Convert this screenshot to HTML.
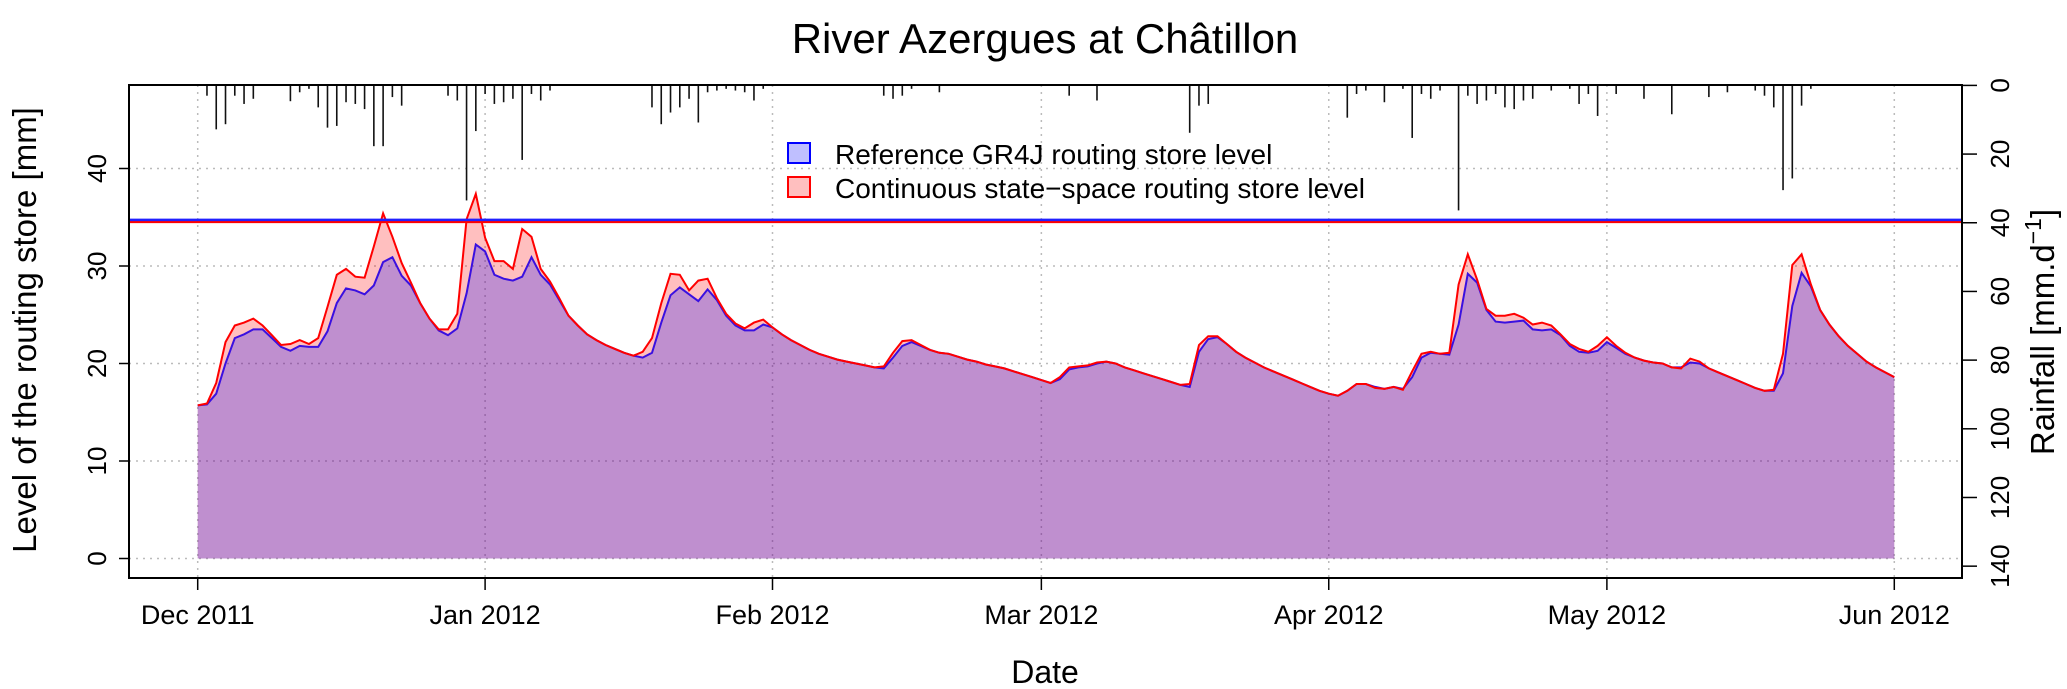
<!DOCTYPE html>
<html><head><meta charset="utf-8"><style>
body{margin:0;background:#fff;}
svg{display:block;font-family:"Liberation Sans",Arial,sans-serif;}
</style></head><body>
<svg id="chart" width="2067" height="689" xmlns="http://www.w3.org/2000/svg">
<text x="1045" y="53" font-size="42" text-anchor="middle">River Azergues at Châtillon</text>
<g id="grid"></g>
<g id="rain"></g>
<g id="areas"></g>
<g id="axes"></g>
<text x="1045" y="683" font-size="32" text-anchor="middle">Date</text>
<text transform="translate(36,330) rotate(-90)" font-size="33" text-anchor="middle">Level of the routing store [mm]</text>
<text transform="translate(2054,332) rotate(-90)" font-size="33" text-anchor="middle">Rainfall [mm.d<tspan dy="-13" font-size="23">−1</tspan><tspan dy="13">]</tspan></text>
<g>
<g>
<rect x="788" y="143" width="22" height="20" fill="rgba(0,0,255,0.25)" stroke="#0000ff" stroke-width="2"/>
<text x="835" y="164" font-size="28">Reference GR4J routing store level</text></g>
<g>
<rect x="788" y="177" width="22" height="20" fill="rgba(255,0,0,0.25)" stroke="#ff0000" stroke-width="2"/>
<text x="835" y="198" font-size="28">Continuous state−space routing store level</text></g>
</g>
</svg>
<script>
const blueLevel=[15.7,15.8,16.9,20.0,22.6,23.0,23.5,23.5,22.6,21.7,21.3,21.8,21.7,21.7,23.3,26.2,27.7,27.5,27.1,28.0,30.4,30.9,29.0,28.0,26.2,24.6,23.4,22.9,23.6,27.2,32.2,31.5,29.1,28.7,28.5,28.9,30.9,29.1,28.1,26.5,24.9,23.9,23.0,22.4,21.9,21.5,21.1,20.8,20.6,21.1,24.2,27.0,27.8,27.1,26.4,27.6,26.5,24.9,23.9,23.4,23.4,24.0,23.7,23.0,22.4,21.9,21.4,21.0,20.7,20.4,20.2,20.0,19.8,19.6,19.5,20.6,21.8,22.2,21.8,21.4,21.1,21.0,20.7,20.4,20.2,19.9,19.7,19.5,19.2,18.9,18.6,18.3,18.0,18.4,19.4,19.6,19.7,20.0,20.2,20.0,19.6,19.3,19.0,18.7,18.4,18.1,17.8,17.6,21.2,22.5,22.7,22.0,21.2,20.6,20.1,19.6,19.2,18.8,18.4,18.0,17.6,17.2,16.9,16.7,17.2,17.9,17.9,17.6,17.4,17.6,17.4,18.6,20.6,21.1,21.0,20.9,24.0,29.2,28.3,25.5,24.3,24.2,24.3,24.4,23.5,23.4,23.5,22.9,21.8,21.2,21.1,21.3,22.2,21.6,21.0,20.6,20.3,20.1,20.0,19.6,19.6,20.1,20.0,19.5,19.1,18.7,18.3,17.9,17.5,17.2,17.2,19.0,25.9,29.3,27.9,25.5,24.0,22.8,21.8,21.0,20.2,19.6,19.1,18.6];
const redLevel=[15.7,15.9,18.0,22.2,23.9,24.2,24.6,23.9,22.9,21.9,22.0,22.4,22.0,22.6,25.8,29.1,29.7,28.9,28.8,32.0,35.4,33.0,30.3,28.3,26.2,24.6,23.5,23.5,25.1,34.8,37.4,32.9,30.5,30.5,29.7,33.8,33.0,29.7,28.4,26.7,24.9,23.9,23.0,22.4,21.9,21.5,21.1,20.8,21.2,22.6,26.2,29.2,29.1,27.5,28.5,28.7,26.7,25.1,24.1,23.6,24.2,24.5,23.7,23.0,22.4,21.9,21.4,21.0,20.7,20.4,20.2,20.0,19.8,19.6,19.7,21.1,22.3,22.4,21.9,21.4,21.1,21.0,20.7,20.4,20.2,19.9,19.7,19.5,19.2,18.9,18.6,18.3,18.0,18.6,19.6,19.7,19.8,20.1,20.2,20.0,19.6,19.3,19.0,18.7,18.4,18.1,17.8,17.9,21.9,22.8,22.8,22.0,21.2,20.6,20.1,19.6,19.2,18.8,18.4,18.0,17.6,17.2,16.9,16.7,17.2,17.9,17.9,17.5,17.4,17.6,17.3,19.2,21.0,21.2,21.0,21.1,28.1,31.2,28.6,25.6,24.9,24.9,25.1,24.7,24.0,24.2,23.9,23.0,22.0,21.5,21.2,21.8,22.7,21.8,21.1,20.6,20.3,20.1,20.0,19.6,19.5,20.5,20.2,19.5,19.1,18.7,18.3,17.9,17.5,17.2,17.3,21.0,30.1,31.2,28.1,25.5,24.0,22.8,21.8,21.0,20.2,19.6,19.1,18.6];
const rainfall=[0,3,12.8,11.3,3,5.4,3.9,0,0,0,4.6,2,1,6.4,12.3,11.8,4.9,5.4,6.9,17.7,17.7,3.4,5.9,0,0,0,0,3,4.4,33.5,13.3,2.5,5.4,4.9,3.9,21.7,2.5,4.4,1.5,0,0,0,0,0,0,0,0,0,0,6.4,11.3,7.9,6.4,3.9,10.8,2,1.5,1,1.5,2,4.4,1,0,0,0,0,0,0,0,0,0,0,0,0,3,3.9,3,1,0,0,2,0,0,0,0,0,0,0,0,0,0,0,0,0,3,0,0,4.4,0,0,0,0,0,0,0,0,0,13.8,5.9,5.4,0,0,0,0,0,0,0,0,0,0,0,0,0,0,9.4,2.5,1.5,0,4.9,0,1,15.3,2.5,3.9,1.5,0,36.4,3,5.4,4.4,2.5,6.4,6.9,4.4,3.9,0,1.5,0,1,5.4,2.5,8.9,0,2.5,0,0,3.9,0,0,8.4,0,0,0,3.4,0,2,0,0,1.5,3,6.4,30.5,27.1,5.9,1,0,0,0,0,0,0];
const refBlue=34.7, refRed=34.5;
const monthLabels=["Dec 2011","Jan 2012","Feb 2012","Mar 2012","Apr 2012","May 2012","Jun 2012"];
const monthDays=[0,31,62,91,122,152,183];
const leftTicks=[0,10,20,30,40];
const rightTicks=[0,20,40,60,80,100,120,140];

const NS="http://www.w3.org/2000/svg";
const L=129,R=1962,T=85,B=578;
const xDay=d=>197.7+9.271*d;
const yVal=v=>558.5-9.75*v;
const yRain=m=>85.4+3.434*m;
function mk(tag,attrs,parent){const e=document.createElementNS(NS,tag);for(const k in attrs)e.setAttribute(k,attrs[k]);parent.appendChild(e);return e;}
const grid=document.getElementById('grid'),rain=document.getElementById('rain'),areas=document.getElementById('areas'),axes=document.getElementById('axes');
leftTicks.forEach(v=>{const g=mk('line',{x1:L,x2:R,y1:yVal(v),y2:yVal(v),stroke:'#bbb','stroke-width':1.5,'stroke-dasharray':'2,5'},grid);

});
monthDays.forEach(d=>{const g=mk('line',{x1:xDay(d),x2:xDay(d),y1:T,y2:B,stroke:'#bbb','stroke-width':1.5,'stroke-dasharray':'2,5'},grid);

});
rainfall.forEach((m,i)=>{if(m<=0)return;const b=mk('line',{x1:xDay(i),x2:xDay(i),y1:T,y2:yRain(m),stroke:'#111','stroke-width':1.6},rain);

});
function poly(arr,fill,stroke,name){let pts=arr.map((v,i)=>xDay(i).toFixed(1)+','+yVal(v).toFixed(1));
const p=mk('polygon',{points:xDay(arr.length-1)+','+yVal(0)+' '+xDay(0)+','+yVal(0)+' '+pts.join(' '),fill:fill,stroke:'none'},areas);


const l=mk('polyline',{points:pts.join(' '),fill:'none',stroke:stroke,'stroke-width':2},areas);


return l;}
const redLine=poly(redLevel,'rgba(255,0,0,0.25)','#ff0000','continuous');
const blueLine=poly(blueLevel,'rgba(0,0,255,0.25)','#3a10e0','reference');
areas.appendChild(redLine);
const hb=mk('line',{x1:L,x2:R,y1:yVal(refBlue),y2:yVal(refBlue),stroke:'#2020ff','stroke-width':3},areas);


const hr=mk('line',{x1:L,x2:R,y1:yVal(refRed),y2:yVal(refRed),stroke:'#ff0000','stroke-width':2},areas);


const box=mk('rect',{x:L,y:T,width:R-L,height:B-T,fill:'none',stroke:'#000','stroke-width':2},axes);


leftTicks.forEach(v=>{mk('line',{x1:L-10,x2:L,y1:yVal(v),y2:yVal(v),stroke:'#000','stroke-width':1.5},axes);
const t=mk('text',{transform:`translate(${106},${yVal(v)}) rotate(-90)`,'font-size':26,'text-anchor':'middle'},axes);t.textContent=v;

});
rightTicks.forEach(v=>{mk('line',{x1:R,x2:R+15,y1:yRain(v),y2:yRain(v),stroke:'#000','stroke-width':1.5},axes);
const t=mk('text',{transform:`translate(${2009},${yRain(v)}) rotate(-90)`,'font-size':26,'text-anchor':'middle'},axes);t.textContent=v;

});
monthDays.forEach((d,i)=>{mk('line',{x1:xDay(d),x2:xDay(d),y1:B,y2:B+12,stroke:'#000','stroke-width':1.5},axes);
const t=mk('text',{x:xDay(d),y:624,'font-size':27,'text-anchor':'middle'},axes);t.textContent=monthLabels[i];

});
</script>
</body></html>
